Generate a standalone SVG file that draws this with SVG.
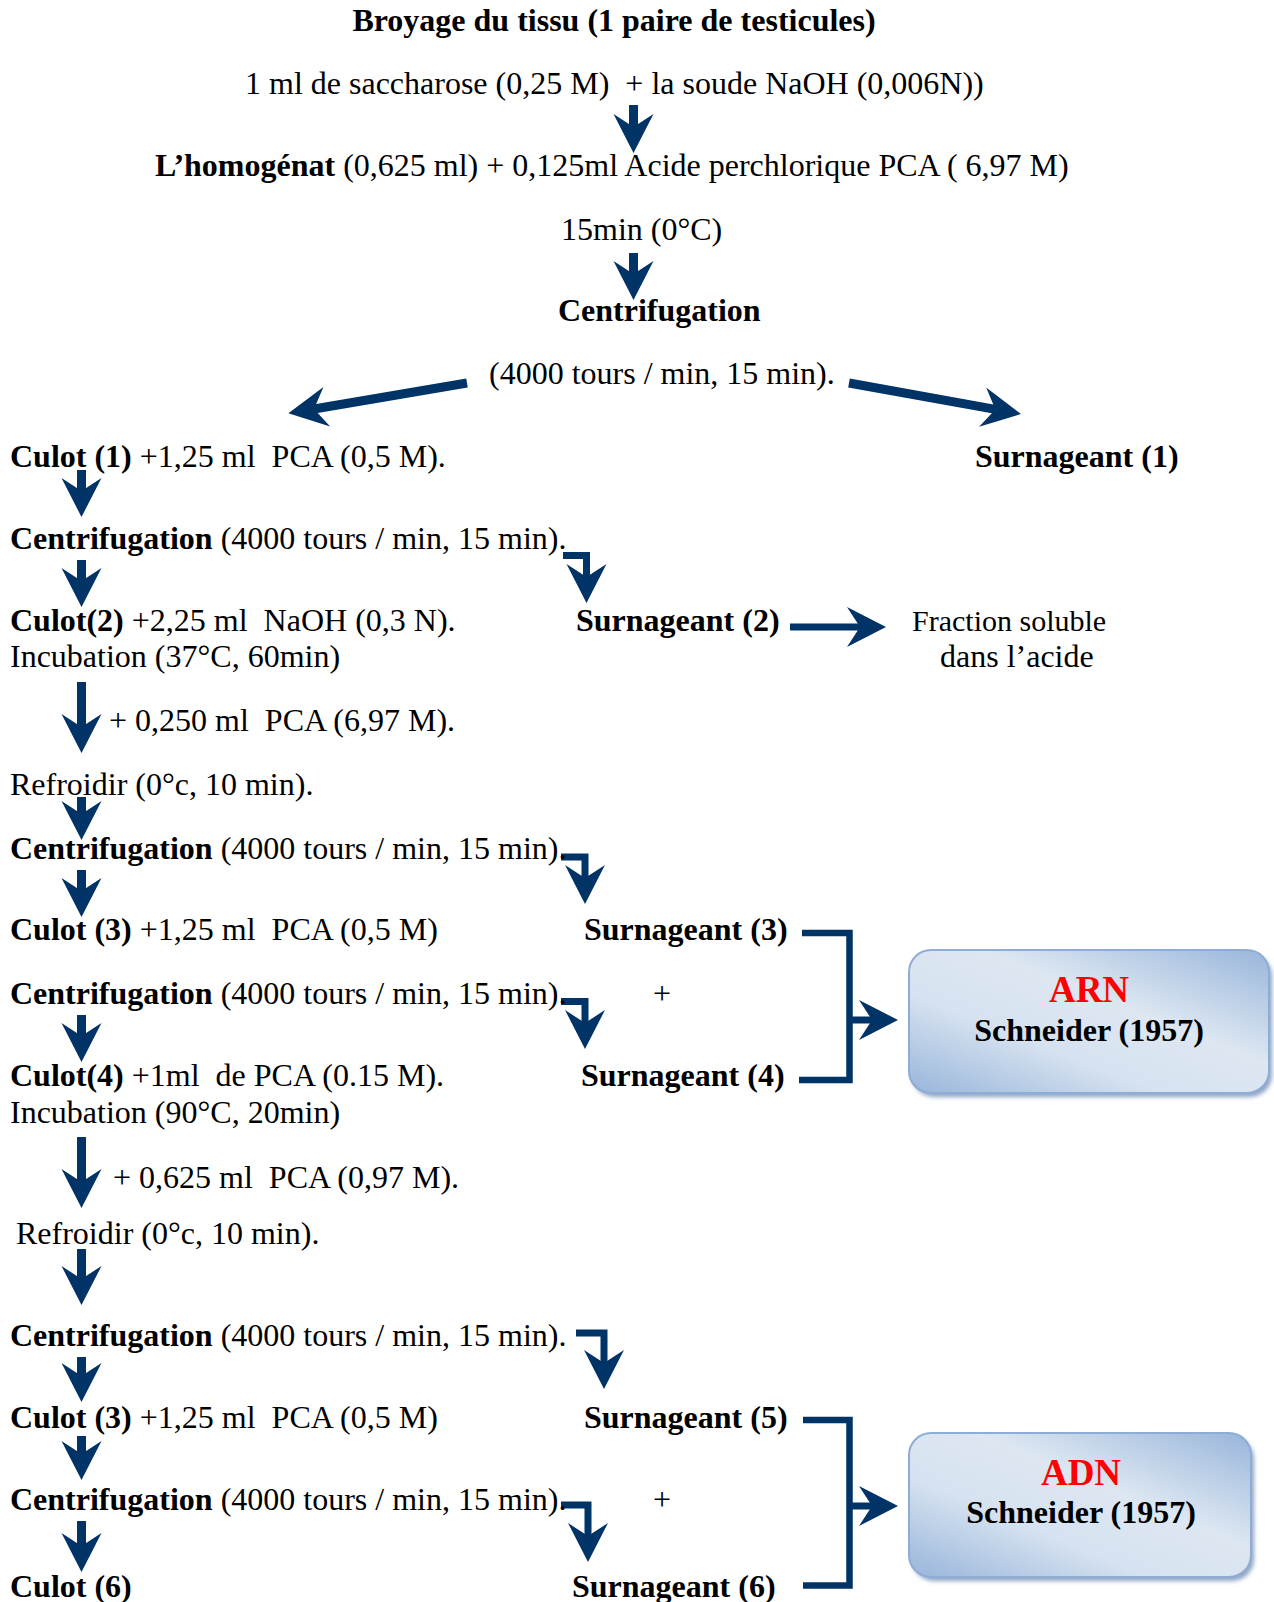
<svg xmlns="http://www.w3.org/2000/svg" width="1274" height="1602" viewBox="0 0 1274 1602">
<style>
text{font-family:"Liberation Serif","Times New Roman",serif;font-size:32px;fill:#000;white-space:pre}
.b{font-weight:bold}
.red{fill:#ff0000;font-weight:bold;font-size:37px}
.mid{text-anchor:middle}
.sm{font-size:30px}
.ar{fill:none;stroke:#003366;stroke-width:9;marker-end:url(#head)}
.el{fill:none;stroke:#003366;stroke-width:7;stroke-linejoin:miter;marker-end:url(#head)}
.br{fill:none;stroke:#003366;stroke-width:6.5;stroke-linejoin:miter}
.box{fill:url(#g);stroke:#8eadd6;stroke-width:2}
.sh{fill:#8ea4c4;filter:url(#blur)}
</style>
<defs>
<marker id="head" markerUnits="userSpaceOnUse" orient="auto" refX="0" refY="0" markerWidth="60" markerHeight="60" overflow="visible">
<path d="M26,0 L-13,-20 L0,0 L-13,20 Z" fill="#003366"/>
</marker>
<linearGradient id="g" x1="0" y1="1" x2="1" y2="0">
<stop offset="0" stop-color="#98b5da"/>
<stop offset="0.35" stop-color="#d6e2f0"/>
<stop offset="0.6" stop-color="#dde7f2"/>
<stop offset="1" stop-color="#98b5da"/>
</linearGradient>
<filter id="blur" x="-10%" y="-10%" width="120%" height="120%"><feGaussianBlur stdDeviation="2"/></filter>
</defs>

<g id="connectors">
<line class="ar" x1="633.5" y1="105" x2="633.5" y2="127"/>
<line class="ar" x1="633.5" y1="253" x2="633.5" y2="274"/>
<line class="ar" x1="467" y1="383" x2="314" y2="409"/>
<line class="ar" x1="849" y1="383" x2="995.4" y2="409.4"/>
<line class="ar" x1="81.5" y1="470" x2="81.5" y2="491"/>
<line class="ar" x1="81.5" y1="560" x2="81.5" y2="581"/>
<line class="ar" x1="81.5" y1="682" x2="81.5" y2="727"/>
<line class="ar" x1="81.5" y1="797" x2="81.5" y2="814"/>
<line class="ar" x1="81.5" y1="870" x2="81.5" y2="891"/>
<line class="ar" x1="81.5" y1="1015" x2="81.5" y2="1036"/>
<line class="ar" x1="81.5" y1="1137" x2="81.5" y2="1182"/>
<line class="ar" x1="81.5" y1="1249" x2="81.5" y2="1279"/>
<line class="ar" x1="81.5" y1="1357" x2="81.5" y2="1376"/>
<line class="ar" x1="81.5" y1="1436" x2="81.5" y2="1454"/>
<line class="ar" x1="81.5" y1="1521" x2="81.5" y2="1546"/>
<path class="el" d="M563,555.5 H586.5 V577"/>
<path class="el" d="M561,857 H585 V878"/>
<path class="el" d="M561,1001.5 H585 V1023"/>
<path class="el" d="M576,1333 H604 V1363"/>
<path class="el" d="M561,1505 H588 V1536"/>
<line class="el" x1="790" y1="627" x2="860" y2="627"/>
<path class="br" d="M802,933 H849.5 V1080 H799"/>
<line class="el" x1="849.5" y1="1020" x2="872" y2="1020"/>
<path class="br" d="M803,1420 H849.5 V1585.5 H803"/>
<line class="el" x1="849.5" y1="1506" x2="872" y2="1506"/>
</g>

<g id="n-title"><text class="b mid" x="614" y="31">Broyage du tissu (1 paire de testicules)</text></g>
<g id="n-sacch"><text x="245" y="94">1 ml de saccharose (0,25 M)  + la soude NaOH (0,006N))</text></g>
<g id="n-homog"><text x="155" y="176"><tspan class="b">L’homogénat</tspan> (0,625 ml) + 0,125ml Acide perchlorique PCA ( 6,97 M)</text></g>
<g id="n-15min"><text x="561" y="240">15min (0°C)</text></g>
<g id="n-centri0"><text class="b" x="558" y="321">Centrifugation</text></g>
<g id="n-tours0"><text x="489" y="384">(4000 tours / min, 15 min).</text></g>
<g id="n-culot1"><text x="10" y="467"><tspan class="b">Culot (1)</tspan> +1,25 ml  PCA (0,5 M).</text></g>
<g id="n-surn1"><text class="b" x="975" y="467">Surnageant (1)</text></g>
<g id="n-centri1"><text x="10" y="549"><tspan class="b">Centrifugation</tspan> (4000 tours / min, 15 min).</text></g>
<g id="n-culot2"><text x="10" y="631"><tspan class="b">Culot(2)</tspan> +2,25 ml  NaOH (0,3 N).</text><text x="10" y="667">Incubation (37°C, 60min)</text></g>
<g id="n-surn2"><text class="b" x="576" y="631">Surnageant (2)</text></g>
<g id="n-fraction"><text class="sm" x="912" y="631">Fraction soluble</text><text x="940" y="667">dans l’acide</text></g>
<g id="n-pca1"><text x="109" y="731">+ 0,250 ml  PCA (6,97 M).</text></g>
<g id="n-refr1"><text x="10" y="795">Refroidir (0°c, 10 min).</text></g>
<g id="n-centri2"><text x="10" y="859"><tspan class="b">Centrifugation</tspan> (4000 tours / min, 15 min).</text></g>
<g id="n-culot3"><text x="10" y="940"><tspan class="b">Culot (3)</tspan> +1,25 ml  PCA (0,5 M)</text></g>
<g id="n-surn3"><text class="b" x="584" y="940">Surnageant (3)</text></g>
<g id="n-centri3"><text x="10" y="1004"><tspan class="b">Centrifugation</tspan> (4000 tours / min, 15 min).</text></g>
<g id="n-plus1"><text class="mid" x="662" y="1004">+</text></g>
<g id="n-culot4"><text x="10" y="1086"><tspan class="b">Culot(4)</tspan> +1ml  de PCA (0.15 M).</text><text x="10" y="1123">Incubation (90°C, 20min)</text></g>
<g id="n-surn4"><text class="b" x="581" y="1086">Surnageant (4)</text></g>
<g id="n-arn"><rect class="sh" x="912" y="954" width="360" height="143" rx="22"/><rect class="box" x="909" y="950" width="360" height="143" rx="22"/><text class="red mid" x="1089" y="1002">ARN</text><text class="b mid" x="1089" y="1041">Schneider (1957)</text></g>
<g id="n-pca2"><text x="113" y="1188">+ 0,625 ml  PCA (0,97 M).</text></g>
<g id="n-refr2"><text x="16" y="1244">Refroidir (0°c, 10 min).</text></g>
<g id="n-centri4"><text x="10" y="1346"><tspan class="b">Centrifugation</tspan> (4000 tours / min, 15 min).</text></g>
<g id="n-culot5"><text x="10" y="1428"><tspan class="b">Culot (3)</tspan> +1,25 ml  PCA (0,5 M)</text></g>
<g id="n-surn5"><text class="b" x="584" y="1428">Surnageant (5)</text></g>
<g id="n-centri5"><text x="10" y="1510"><tspan class="b">Centrifugation</tspan> (4000 tours / min, 15 min).</text></g>
<g id="n-plus2"><text class="mid" x="662" y="1510">+</text></g>
<g id="n-culot6"><text class="b" x="10" y="1597">Culot (6)</text></g>
<g id="n-surn6"><text class="b" x="572" y="1597">Surnageant (6)</text></g>
<g id="n-adn"><rect class="sh" x="912" y="1437" width="342" height="144" rx="22"/><rect class="box" x="909" y="1433" width="342" height="144" rx="22"/><text class="red mid" x="1081" y="1485">ADN</text><text class="b mid" x="1081" y="1523">Schneider (1957)</text></g>
</svg>
